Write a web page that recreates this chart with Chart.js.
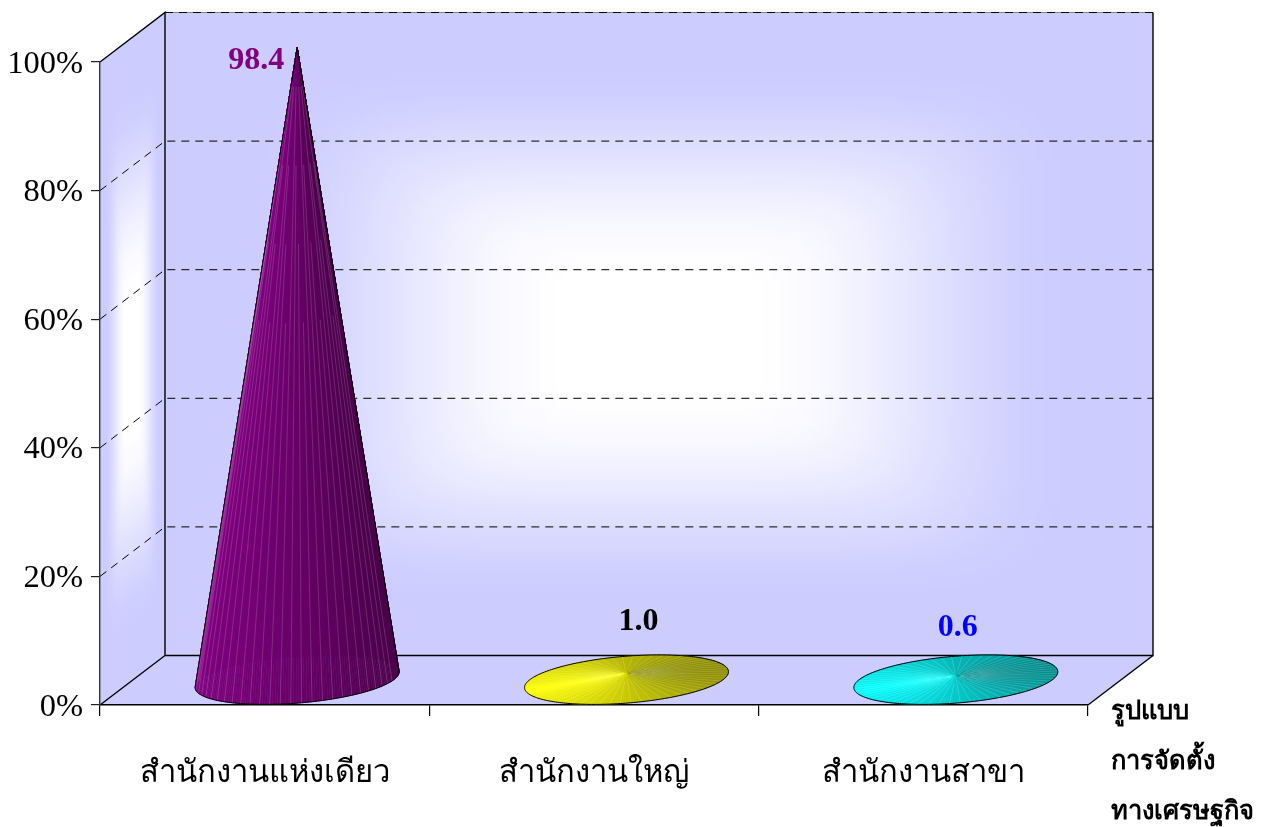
<!DOCTYPE html>
<html>
<head>
<meta charset="utf-8">
<style>
    html, body { margin: 0; padding: 0; background: #fff; }
    canvas { display: block; }
</style>
<script src="https://cdn.jsdelivr.net/npm/chart.js@4"></script>
</head>
<body>
<canvas id="chart" width="1263" height="827"></canvas>
<script>
const categories = ['สำนักงานแห่งเดียว', 'สำนักงานใหญ่', 'สำนักงานสาขา'];
const shareValues = [98.4, 1.0, 0.6];
const valueLabels = ['98.4', '1.0', '0.6'];
const valueColors = ['#800080', '#000000', '#0000ff'];
const coneColors = [[132, 0, 132], [255, 255, 0], [0, 255, 255]];
const labelOffsets = [[-41, 13], [12, -52], [2, -49]];
const axisTitleLines = ['รูปแบบ', 'การจัดตั้ง', 'ทางเศรษฐกิจ'];

const serif = '"Liberation Serif", "Times New Roman", serif';
const depthX = 65;
const depthY = 49.5;
const wallColor = [204, 204, 255];

// rectangular "path" gradient with rounded contours, scaled onto each wall
function makeWallImage() {
    const size = 120;
    const img = document.createElement('canvas');
    img.width = img.height = size;
    const g = img.getContext('2d');
    const data = g.createImageData(size, size);
    for (let j = 0; j < size; j++) {
        for (let i = 0; i < size; i++) {
            const dx = Math.abs((i + 0.5) / size - 0.5) * 2;
            const dy = Math.abs((j + 0.5) / size - 0.5) * 2;
            const d = Math.pow(Math.pow(dx, 6) + Math.pow(dy, 6), 1 / 6);
            const u = Math.min(1, Math.max(0, (0.86 - d) / 0.68));
            const k = u * u * (3 - 2 * u);
            const o = (j * size + i) * 4;
            wallColor.forEach((v, c) => { data.data[o + c] = v + (255 - v) * k; });
            data.data[o + 3] = 255;
        }
    }
    g.putImageData(data, 0, 0);
    return img;
}

function line(ctx, pts, dash) {
    ctx.setLineDash(dash || []);
    ctx.beginPath();
    pts.forEach((p, i) => i ? ctx.lineTo(p[0], p[1]) : ctx.moveTo(p[0], p[1]));
    ctx.stroke();
    ctx.setLineDash([]);
}

const wallsPlugin = {
    id: 'walls',
    beforeDraw(chart) {
        const { ctx, chartArea: area, scales } = chart;
        const l = area.left, r = area.right, t = area.top, b = area.bottom;
        const wallImage = makeWallImage();

        ctx.save();
        // floor
        ctx.fillStyle = '#ccccff';
        ctx.beginPath();
        ctx.moveTo(l, b);
        ctx.lineTo(l + depthX, b - depthY);
        ctx.lineTo(r + depthX, b - depthY);
        ctx.lineTo(r, b);
        ctx.closePath();
        ctx.fill();

        // back wall
        ctx.save();
        ctx.transform(r - l, 0, 0, b - t, l + depthX, t - depthY);
        ctx.drawImage(wallImage, 0, 0, 1, 1);
        ctx.restore();

        // side wall
        ctx.save();
        ctx.transform(depthX, -depthY, 0, b - t, l, t);
        ctx.drawImage(wallImage, 0, 0, 1, 1);
        ctx.restore();

        ctx.strokeStyle = '#000';
        ctx.lineWidth = 1;
        scales.y.ticks.forEach(tick => {
            if (tick.value === 0) return;
            const y = scales.y.getPixelForValue(tick.value);
            if (tick.value === 100) {
                ctx.strokeStyle = '#888';
                line(ctx, [[l + depthX, y - depthY], [r + depthX, y - depthY]]);
                ctx.strokeStyle = '#000';
                line(ctx, [[l + depthX, y - depthY], [r + depthX, y - depthY]], [8, 6]);
                return;
            }
            line(ctx, [[l, y], [l + depthX, y - depthY], [r + depthX, y - depthY]], [8, 6]);
        });

        ctx.lineWidth = 1.4;
        line(ctx, [[l, t], [l + depthX, t - depthY], [l + depthX, b - depthY], [l, b]]);
        line(ctx, [[l + depthX, b - depthY], [r + depthX, b - depthY], [r + depthX, t - depthY]]);
        line(ctx, [[r, b], [r + depthX, b - depthY]]);
        ctx.restore();
    }
};

function shade(color, a) {
    let d = a - 209 * Math.PI / 180;
    d = Math.atan2(Math.sin(d), Math.cos(d));
    const k = 0.75 + 0.2 * Math.cos(d) + 0.05 * Math.exp(-(d * d) / 0.06);
    return `rgb(${color.map(v => Math.round(v * k)).join(',')})`;
}

function drawCone(ctx, bar, color) {
    const rx = bar.width / 2;
    const cx = bar.x + depthX / 2;
    const cy = bar.base - depthY / 2;
    const tipY = bar.y - depthY / 2;
    const tall = cy - tipY > 50;
    const at = a => [
        cx + rx * Math.cos(a) + depthX / 2 * Math.sin(a),
        cy - depthY / 2 * Math.sin(a)
    ];

    const n = 240;
    const slices = [];
    for (let i = 0; i < n; i++) {
        slices.push({ a0: i / n * Math.PI * 2, a1: (i + 1) / n * Math.PI * 2 });
    }
    // back slices first, the front of the cone paints over them
    slices.sort((s, q) => Math.sin(q.a0) - Math.sin(s.a0));
    slices.forEach(s => {
        const p0 = at(s.a0), p1 = at(s.a1);
        ctx.fillStyle = ctx.strokeStyle = shade(color, (s.a0 + s.a1) / 2);
        ctx.lineWidth = 0.6;
        ctx.beginPath();
        ctx.moveTo(cx, tipY);
        ctx.lineTo(p0[0], p0[1]);
        ctx.lineTo(p1[0], p1[1]);
        ctx.closePath();
        ctx.fill();
        ctx.stroke();
    });

    // pale seams between the facets, only on the visible side of a tall cone
    const seams = tall ? 30 : 60;
    const sweep = tall ? Math.PI : Math.PI * 2;
    ctx.strokeStyle = tall ? 'rgba(255,255,255,0.2)' : 'rgba(255,255,255,0.22)';
    ctx.lineWidth = 0.8;
    for (let i = 0; i < seams; i++) {
        const a = (tall ? Math.PI : 0) + (i + 0.5) / seams * sweep;
        const p = at(a);
        // staggered starts so the seams do not bunch up at the tip
        const s = tall ? 0.06 + 0.12 * (i % 4) : 0.05 + 0.1 * (i % 3);
        ctx.beginPath();
        ctx.moveTo(cx + (p[0] - cx) * s, tipY + (p[1] - tipY) * s);
        ctx.lineTo(p[0], p[1]);
        ctx.stroke();
    }

    // silhouette
    let left = 0, right = 0, minC = Infinity, maxC = -Infinity;
    for (let i = 0; i < n; i++) {
        const p = at(i / n * Math.PI * 2);
        const c = (p[0] - cx) / Math.max(1, p[1] - tipY);
        if (c < minC) { minC = c; left = i; }
        if (c > maxC) { maxC = c; right = i; }
    }
    ctx.strokeStyle = '#000';
    ctx.lineWidth = 1;
    const edge = [];
    if (tall) {
        edge.push([cx, tipY]);
        const end = right < left ? right + n : right;
        for (let i = left; i <= end; i++) edge.push(at(i / n * Math.PI * 2));
        edge.push([cx, tipY]);
    } else {
        for (let i = 0; i <= n; i++) edge.push(at(i / n * Math.PI * 2));
    }
    line(ctx, edge);
}

const conesPlugin = {
    id: 'cones',
    afterDatasetsDraw(chart) {
        const { ctx } = chart;
        const bars = chart.getDatasetMeta(0).data;
        ctx.save();
        bars.forEach((bar, i) => drawCone(ctx, bar, coneColors[i]));

        ctx.font = 'bold 32px ' + serif;
        ctx.textAlign = 'center';
        ctx.textBaseline = 'middle';
        bars.forEach((bar, i) => {
            ctx.fillStyle = valueColors[i];
            const x = bar.x + depthX / 2 + labelOffsets[i][0];
            const y = bar.y - depthY / 2 + labelOffsets[i][1];
            ctx.fillText(valueLabels[i], x, y);
        });

        ctx.fillStyle = '#000';
        ctx.textAlign = 'left';
        ctx.font = 'bold 25.5px ' + serif;
        axisTitleLines.forEach((text, i) => ctx.fillText(text, 1111, 712 + i * 50));
        ctx.restore();
    }
};

new Chart(document.getElementById('chart'), {
    type: 'bar',
    data: {
        labels: categories,
        datasets: [{
            data: shareValues,
            backgroundColor: 'rgba(0,0,0,0)',
            barPercentage: 0.587,
            categoryPercentage: 1
        }]
    },
    options: {
        responsive: false,
        animation: false,
        layout: { padding: { top: 62, right: 175, left: 0, bottom: 0 } },
        plugins: { legend: { display: false }, tooltip: { enabled: false } },
        scales: {
            x: {
                grid: { drawOnChartArea: false, color: '#000', lineWidth: 1.2, tickLength: 11 },
                border: { color: '#000', width: 1.4 },
                ticks: {
                    color: '#000',
                    padding: 39,
                    maxRotation: 0,
                    autoSkip: false,
                    font: { family: serif, size: 31 }
                },
                afterFit(scale) { scale.height = 122; }
            },
            y: {
                min: 0,
                max: 100,
                grid: { drawOnChartArea: false, color: '#222', lineWidth: 1.2, tickLength: 9 },
                border: { color: '#333', width: 1.4 },
                ticks: {
                    stepSize: 20,
                    color: '#000',
                    padding: 8,
                    labelOffset: 2,
                    font: { family: serif, size: 32.5 },
                    callback: v => v + '%'
                },
                afterFit(scale) { scale.width = 100; }
            }
        }
    },
    plugins: [wallsPlugin, conesPlugin]
});
</script>
</body>
</html>
